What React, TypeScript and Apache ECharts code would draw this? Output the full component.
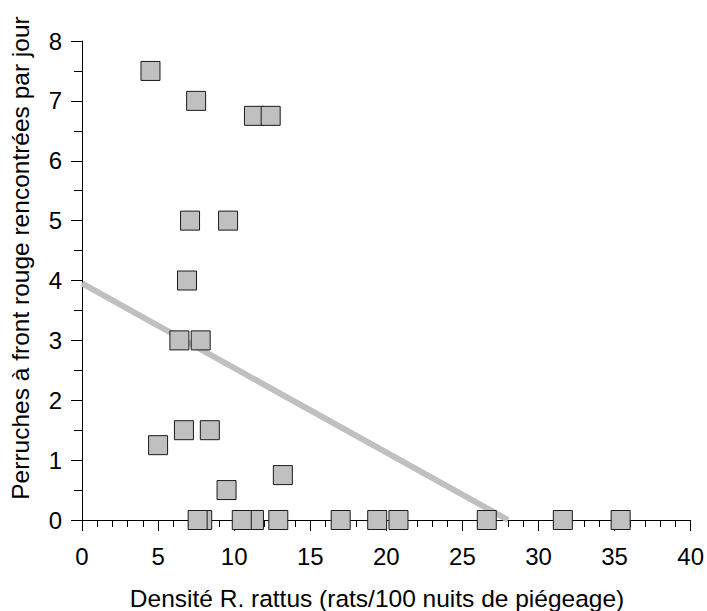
import React, { useEffect, useRef } from "react";
import * as echarts from "echarts";

const densite = [4.5, 7.5, 11.3, 12.4, 7.1, 9.6, 6.9, 6.4, 7.8, 6.7, 8.4, 5.0, 13.2, 9.5, 7.9, 7.6, 11.3, 10.5, 12.9, 17.0, 19.4, 20.8, 26.6, 31.6, 35.4];
const perruches = [7.5, 7, 6.75, 6.75, 5, 5, 4, 3, 3, 1.5, 1.5, 1.25, 0.75, 0.5, 0, 0, 0, 0, 0, 0, 0, 0, 0, 0, 0];
const regressionX = [0, 28];
const regressionY = [3.95, 0];

const xTitle = "Densité R. rattus (rats/100 nuits de piégeage)";
const yTitle = "Perruches à front rouge rencontrées par jour";

const FONT = "'Liberation Sans', Arial, sans-serif";

export default function App() {
  const ref = useRef<HTMLDivElement>(null);
  useEffect(() => {
    if (!ref.current) return;
    const chart = echarts.init(ref.current, null, { renderer: "svg" });
    const points = densite.map((x, i) => [x, perruches[i]]);
    const reg = regressionX.map((x, i) => [x, regressionY[i]]);
    chart.setOption({
      animation: false,
      backgroundColor: "#ffffff",
      textStyle: { fontFamily: FONT },
      grid: { left: 82, right: 16, top: 41, bottom: 91, containLabel: false },
      xAxis: {
        type: "value",
        min: 0,
        max: 40,
        interval: 5,
        axisLine: { show: true, onZero: false, lineStyle: { color: "#000", width: 1 } },
        axisTick: { show: true, inside: false, length: 11, lineStyle: { color: "#000", width: 1 } },
        minorTick: { show: true, splitNumber: 5, length: 7, lineStyle: { color: "#000", width: 1 } },
        splitLine: { show: false },
        minorSplitLine: { show: false },
        axisLabel: { color: "#000", fontSize: 24, fontFamily: FONT, margin: 24 },
      },
      yAxis: {
        type: "value",
        min: 0,
        max: 8,
        interval: 1,
        axisLine: { show: true, onZero: false, lineStyle: { color: "#000", width: 1 } },
        axisTick: { show: true, inside: false, length: 11, lineStyle: { color: "#000", width: 1 } },
        minorTick: { show: true, splitNumber: 2, length: 8, lineStyle: { color: "#000", width: 1 } },
        splitLine: { show: false },
        minorSplitLine: { show: false },
        axisLabel: { color: "#000", fontSize: 24, fontFamily: FONT, margin: 20 },
      },
      graphic: [
        {
          type: "text",
          x: 377,
          y: 598,
          style: {
            text: xTitle,
            fill: "#000",
            font: `24.5px ${FONT}`,
            textAlign: "center",
            textVerticalAlign: "middle",
          },
        },
        {
          type: "text",
          x: 20,
          y: 258,
          rotation: Math.PI / 2,
          style: {
            text: yTitle,
            fill: "#000",
            font: `24.5px ${FONT}`,
            textAlign: "center",
            textVerticalAlign: "middle",
          },
        },
      ],
      series: [
        {
          type: "line",
          data: reg,
          symbol: "none",
          z: 2,
          lineStyle: { color: "#c0c0c0", width: 6, cap: "butt" },
          silent: true,
        },
        {
          type: "scatter",
          data: points,
          symbol: "rect",
          symbolSize: 19,
          z: 3,
          itemStyle: { color: "#c0c0c0", borderColor: "#1a1a1a", borderWidth: 1, opacity: 1 },
        },
      ],
    });
    return () => chart.dispose();
  }, []);
  return (
    <div
      ref={ref}
      style={{ position: "fixed", left: 0, top: 0, width: 707, height: 611, background: "#fff" }}
    />
  );
}
